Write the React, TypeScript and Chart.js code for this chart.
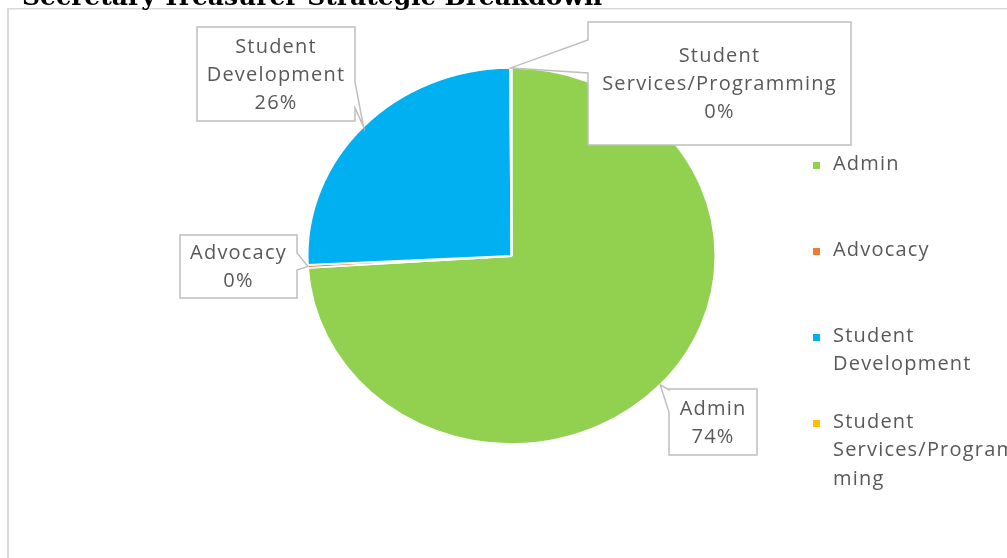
import React, { useEffect, useRef } from "react";
import { Chart, registerables } from "chart.js";

Chart.register(...registerables);

const TITLE = "Secretary-Treasurer Strategic Breakdown";
const categories = ["Admin", "Advocacy", "Student Development", "Student Services/Programming"];
const values = [74.0, 0.25, 25.65, 0.1];
const colors = ["#92D050", "#ED7D31", "#00B0F0", "#FFC000"];
const calloutNameLines = [["Admin"], ["Advocacy"], ["Student", "Development"], ["Student", "Services/Programming"]];
const legendLines = [["Admin"], ["Advocacy"], ["Student", "Development"], ["Student", "Services/Program", "ming"]];

// layout of callout boxes (positions only)
const CALLOUTS = [
  { x: 669, y: 389, w: 88, h: 66, side: "left", b0: 390, b1: 412 },
  { x: 180, y: 235, w: 117, h: 63, side: "right", b0: 253, b1: 270 },
  { x: 197, y: 27, w: 158, h: 94, side: "right", b0: 82, b1: 108 },
  { x: 588, y: 22, w: 263, h: 123, side: "left", b0: 40, b1: 73 },
];
const SY = 0.922; // vertical squash of the pie
const FONT = '20px "Open Sans"';
const TEXT_COLOR = "#595959";

const ellipsePlugin = {
  id: "ellipse",
  beforeDatasetsDraw(chart: any) {
    const ctx = chart.ctx;
    const a = chart.getDatasetMeta(0).data[0];
    ctx.save();
    ctx.translate(a.x, a.y);
    ctx.scale(1, SY);
    ctx.translate(-a.x, -a.y);
  },
  afterDatasetsDraw(chart: any) {
    chart.ctx.restore();
  },
};

const decorPlugin = {
  id: "decor",
  beforeDraw(chart: any) {
    const ctx = chart.ctx;
    ctx.save();
    ctx.fillStyle = "#ffffff";
    ctx.fillRect(0, 0, chart.width, chart.height);
    ctx.fillStyle = "#d9d9d9";
    ctx.fillRect(7, 8, 2, chart.height);
    ctx.fillRect(7, 8, chart.width, 1.5);
    ctx.font = 'bold 25px "DejaVu Serif"';
    ctx.fillStyle = "#000000";
    ctx.textBaseline = "alphabetic";
    ctx.textAlign = "left";
    ctx.fillText(TITLE, 22, 4.5);
    ctx.restore();
  },
  afterDraw(chart: any) {
    const ctx = chart.ctx;
    const meta = chart.getDatasetMeta(0);
    const total = values.reduce((s, v) => s + v, 0);
    ctx.save();
    try { (ctx as any).letterSpacing = "1.2px"; } catch (e) {}
    CALLOUTS.forEach((c, i) => {
      const arc: any = meta.data[i];
      const mid = (arc.startAngle + arc.endAngle) / 2;
      const tx = arc.x + Math.cos(mid) * arc.outerRadius;
      const ty = arc.y + Math.sin(mid) * arc.outerRadius * SY;
      ctx.beginPath();
      ctx.moveTo(c.x, c.y);
      ctx.lineTo(c.x + c.w, c.y);
      if (c.side === "right") {
        ctx.lineTo(c.x + c.w, c.b0);
        ctx.lineTo(tx, ty);
        ctx.lineTo(c.x + c.w, c.b1);
      }
      ctx.lineTo(c.x + c.w, c.y + c.h);
      ctx.lineTo(c.x, c.y + c.h);
      if (c.side === "left") {
        ctx.lineTo(c.x, c.b1);
        ctx.lineTo(tx, ty);
        ctx.lineTo(c.x, c.b0);
      }
      ctx.closePath();
      ctx.fillStyle = "#ffffff";
      ctx.fill();
      ctx.strokeStyle = "#bfbfbf";
      ctx.lineWidth = 1.5;
      ctx.stroke();
      const lines = [...calloutNameLines[i], Math.round((values[i] / total) * 100) + "%"];
      ctx.font = FONT;
      ctx.fillStyle = TEXT_COLOR;
      ctx.textAlign = "center";
      ctx.textBaseline = "middle";
      const lh = 28;
      const cy = c.y + c.h / 2 - ((lines.length - 1) * lh) / 2 + 1;
      lines.forEach((l, k) => ctx.fillText(l, c.x + c.w / 2, cy + k * lh));
    });
    // legend
    ctx.textAlign = "left";
    ctx.textBaseline = "middle";
    ctx.font = FONT;
    legendLines.forEach((ls, i) => {
      const y0 = 164 + i * 86;
      ctx.fillStyle = colors[i];
      ctx.fillRect(813, y0 - 2, 7, 7);
      ctx.fillStyle = TEXT_COLOR;
      ls.forEach((l, k) => ctx.fillText(l, 833, y0 + k * 28.5));
    });
    ctx.restore();
  },
};

export default function App() {
  const ref = useRef<HTMLCanvasElement | null>(null);
  useEffect(() => {
    if (!ref.current) return;
    const chart = new Chart(ref.current, {
      type: "pie",
      data: {
        labels: categories,
        datasets: [
          {
            data: values,
            backgroundColor: colors,
            borderColor: "#ffffff",
            borderWidth: 2,
          },
        ],
      },
      options: {
        animation: false,
        responsive: true,
        maintainAspectRatio: false,
        layout: { padding: { left: 306, right: 290, top: 51, bottom: 97 } },
        plugins: { legend: { display: false }, tooltip: { enabled: false } },
      },
      plugins: [decorPlugin, ellipsePlugin],
    });
    return () => chart.destroy();
  }, []);
  return (
    <div style={{ position: "absolute", left: 0, top: 0, width: 1007, height: 558, overflow: "hidden" }}>
      <canvas ref={ref} />
    </div>
  );
}
